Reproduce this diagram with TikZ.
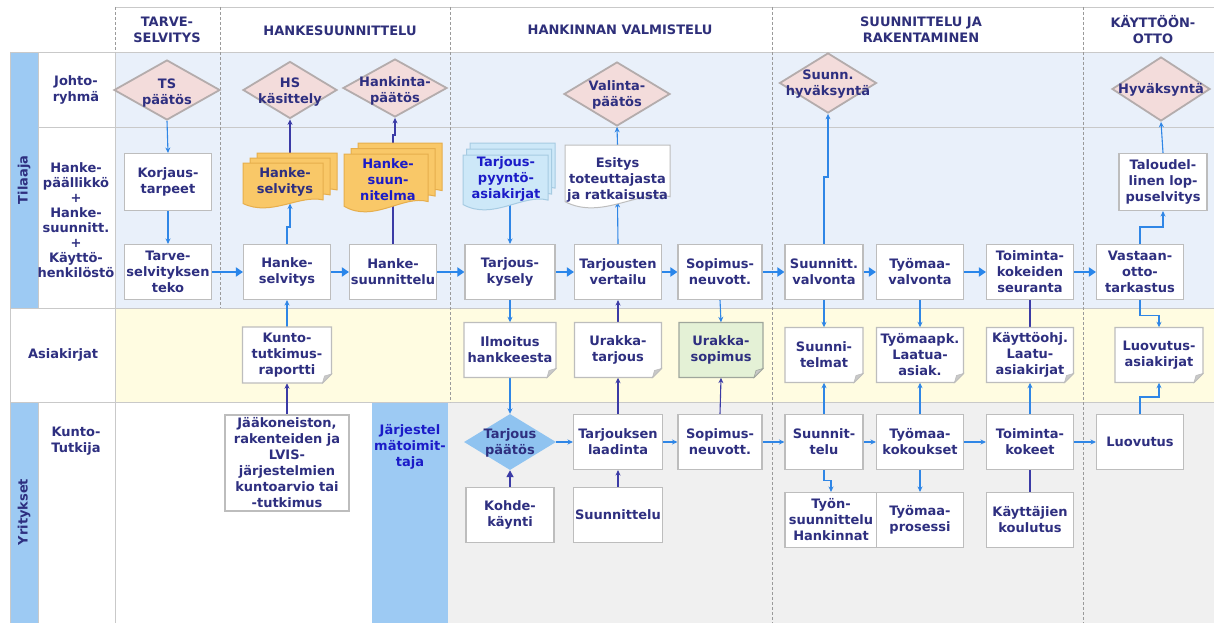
\documentclass[tikz,border=0pt]{standalone}
\usepackage{fontspec}
\setmainfont{DejaVu Sans}
\usetikzlibrary{shapes.geometric,arrows.meta}

\definecolor{ink}{HTML}{2E2F80}
\definecolor{brightink}{HTML}{1B1BC8}
\definecolor{headink}{HTML}{2E2F7A}
\definecolor{tilbg}{HTML}{E9F0FA}
\definecolor{docbg}{HTML}{FFFCE1}
\definecolor{grybg}{HTML}{F0F0F0}
\definecolor{barblue}{HTML}{9DCAF3}
\definecolor{sepgray}{HTML}{C9C9C9}
\definecolor{dashgray}{HTML}{9A9A9A}
\definecolor{boxline}{HTML}{BDBDBD}
\definecolor{pinkfill}{HTML}{F3DCDB}
\definecolor{pinkline}{HTML}{B4ACAC}
\definecolor{orfill}{HTML}{F9C868}
\definecolor{orline}{HTML}{E6AE4C}
\definecolor{lbfill}{HTML}{CDE8F8}
\definecolor{lbline}{HTML}{A6CBE2}
\definecolor{grfill}{HTML}{E4F1D6}
\definecolor{grline}{HTML}{9FA69C}
\definecolor{foldgray}{HTML}{C8C8C8}
\definecolor{wireblue}{HTML}{2F86E6}
\definecolor{wirenavy}{HTML}{3B3BA6}
\definecolor{flowblue}{HTML}{2A86EA}
\definecolor{tpfill}{HTML}{8FC3F0}

\pgfdeclarelayer{bg}
\pgfdeclarelayer{wires}
\pgfsetlayers{bg,wires,main}

% document sheet with a wavy lower edge, centred at (#1,#2), size #3 x #4
\newcommand\wavedoc[6]{\filldraw[fill=#5,draw=#6,line width=1pt,shift={(#1,#2)}]
  (-#3/2,-#4/2) -- (#3/2,-#4/2) -- (#3/2,0.32*#4)
  .. controls (0.2*#3,0.2*#4) and (-0.15*#3,0.7*#4) .. (-#3/2,0.4*#4) -- cycle;}
% three stacked sheets, each one offset by (#5,-#6)
\newcommand\docstack[8]{%
  \wavedoc{#1+2*#5}{#2-2*#6}{#3}{#4}{#7}{#8}
  \wavedoc{#1+#5}{#2-#6}{#3}{#4}{#7}{#8}
  \wavedoc{#1}{#2}{#3}{#4}{#7}{#8}}
% note sheet with a folded lower right corner
\newcommand\foldnote[6]{%
  \begin{scope}[shift={(#1,#2)}]
    \filldraw[fill=#5,draw=#6,line width=1.1pt] (-#3/2,-#4/2) -- (#3/2,-#4/2) -- (#3/2,#4/2-9)
      -- (#3/2-9,#4/2) -- (-#3/2,#4/2) -- cycle;
    \filldraw[fill=foldgray,draw=#6,line width=0.6pt] (#3/2,#4/2-9) -- (#3/2-9,#4/2) -- (#3/2-7,#4/2-7) -- cycle;
  \end{scope}}

\tikzset{
  txt/.style={font=\fontsize{13}{16}\selectfont\bfseries, text=ink, align=center, inner sep=0pt},
  headtxt/.style={txt, text=headink},
  pbox/.style={txt, draw=boxline, fill=white, line width=1.1pt, minimum width=87pt, minimum height=55pt},
  anchorbox/.style={inner sep=0pt, outer sep=0pt},
  dia/.style={diamond, draw=pinkline, fill=pinkfill, line width=1.8pt, inner sep=0pt},
  wire/.style={draw=wireblue, line width=1.1pt, -{Stealth[length=5.5pt,width=5pt]}},
  navywire/.style={wire, draw=wirenavy},
  bareline/.style={draw=wirenavy, line width=1.1pt},
  flowarrow/.style={draw=flowblue, line width=2.8pt, -{Triangle[length=7pt,width=9pt]}},
  lanesep/.style={draw=sepgray, line width=0.9pt},
  colsep/.style={draw=dashgray, line width=0.8pt, dash pattern=on 3pt off 2pt},
}

\begin{document}
\begin{tikzpicture}[x=1pt,y=-1pt]
\useasboundingbox (0,0) rectangle (1214,623);

% ---------- lanes and columns ----------
\begin{pgfonlayer}{bg}
  \fill[white] (0,0) rectangle (1214,623);
  \fill[tilbg] (115,52) rectangle (1214,308);
  \fill[docbg] (115,308) rectangle (1214,402);
  \fill[grybg] (448,402) rectangle (1214,623);
  \fill[barblue] (10,52) rectangle (38,308);
  \fill[barblue] (10,402) rectangle (38,623);
  \fill[barblue] (372,402) rectangle (448,623);
  \draw[lanesep] (115,7) -- (1214,7);
  \draw[lanesep] (10,52) -- (1214,52);
  \draw[lanesep] (38,127) -- (1214,127);
  \draw[lanesep] (10,308) -- (1214,308);
  \draw[lanesep] (10,402) -- (1214,402);
  \draw[lanesep] (10,52) -- (10,623);
  \draw[lanesep] (38,52) -- (38,308);
  \draw[lanesep] (38,402) -- (38,623);
  \draw[lanesep] (115,52) -- (115,623);
  \draw[colsep] (115,7) -- (115,52);
  \draw[colsep] (220,7) -- (220,308);
  \draw[colsep] (450,7) -- (450,402);
  \draw[colsep] (772,7) -- (772,623);
  \draw[colsep] (1083,7) -- (1083,623);
\end{pgfonlayer}

% ---------- column headings ----------
\node[headtxt] (h1) at (167,30) {TARVE-\\SELVITYS};
\node[headtxt] (h2) at (340,31) {HANKESUUNNITTELU};
\node[headtxt] (h3) at (620,30) {HANKINNAN VALMISTELU};
\node[headtxt] (h4) at (921,30) {SUUNNITTELU JA\\RAKENTAMINEN};
\node[headtxt] (h5) at (1153,30) {KÄYTTÖÖN-\\OTTO};

% ---------- lane labels ----------
\node[txt, rotate=90] (l-til) at (24,180) {Tilaaja};
\node[txt, rotate=90] (l-yri) at (24,512) {Yritykset};
\node[txt] (l-joh) at (76,90) {Johto-\\ryhmä};
\node[txt, font=\fontsize{13}{15}\selectfont\bfseries] (l-han) at (76,220)
  {Hanke-\\päällikkö\\+\\Hanke-\\suunnitt.\\+\\Käyttö-\\henkilöstö};
\node[txt] (l-asi) at (63,355) {Asiakirjat};
\node[txt] (l-kun) at (76,441) {Kunto-\\Tutkija};
\node[txt, text=brightink] (l-jar) at (410,447) {Järjestel\\mätoimit-\\taja};

% ---------- decisions (Johtoryhmä) ----------
\node[dia, minimum width=106pt, minimum height=60pt] (tsp) at (167,90) {};
\node[txt] (tsp-t) at (167,93) {TS\\päätös};
\node[dia, minimum width=94pt, minimum height=57pt] (hsk) at (290,90) {};
\node[txt] (hsk-t) at (290,92) {HS\\käsittely};
\node[dia, minimum width=104pt, minimum height=58pt] (hkp) at (395,88) {};
\node[txt] (hkp-t) at (395,91) {Hankinta-\\päätös};
\node[dia, minimum width=106pt, minimum height=64pt] (vlp) at (617,94) {};
\node[txt] (vlp-t) at (617,95) {Valinta-\\päätös};
\node[dia, minimum width=97pt, minimum height=60pt] (shy) at (828,83) {};
\node[txt] (shy-t) at (828,84) {Suunn.\\hyväksyntä};
\node[dia, minimum width=98pt, minimum height=64pt] (hyv) at (1161,89) {};
\node[txt] (hyv-t) at (1161,90) {Hyväksyntä};

% ---------- Tilaaja lane ----------
\node[pbox, minimum height=57pt] (korj) at (168,182) {Korjaus-\\tarpeet};
\node[pbox] (tarve) at (168,272) {Tarve-\\selvityksen\\teko};
\node[pbox] (hsel) at (287,272) {Hanke-\\selvitys};
\node[pbox] (hsuu) at (393,272) {Hanke-\\suunnittelu};
\node[pbox, minimum width=90pt] (tkys) at (510,272) {Tarjous-\\kysely};
\node[pbox] (tver) at (618,272) {Tarjousten\\vertailu};
\node[pbox, minimum width=84pt] (sneu) at (720,272) {Sopimus-\\neuvott.};
\node[pbox, minimum width=78pt] (sval) at (824,272) {Suunnitt.\\valvonta};
\node[pbox] (tval) at (920,272) {Työmaa-\\valvonta};
\node[pbox] (tkse) at (1030,272) {Toiminta-\\kokeiden\\seuranta};
\node[pbox] (vot) at (1140,272) {Vastaan-\\otto-\\tarkastus};
\node[pbox, minimum width=88pt, minimum height=57pt] (talo) at (1163,182) {Taloudel-\\linen lop-\\puselvitys};

\docstack{283}{185.5}{80}{45}{7}{5}{orfill}{orline}
\node[anchorbox, minimum width=94pt, minimum height=50.5pt] (hsdoc) at (290,178.25) {};
\node[txt] (hsdoc-t) at (285,182) {Hanke-\\selvitys};

\docstack{386}{183}{84}{58}{7}{5.5}{orfill}{orline}
\node[anchorbox, minimum width=98pt, minimum height=63pt] (hsuundoc) at (393,174.5) {};
\node[txt, text=brightink] (hsuundoc-t) at (388,180) {Hanke-\\suun-\\nitelma};

\docstack{505.5}{182.5}{85}{55}{3.5}{6}{lbfill}{lbline}
\node[anchorbox, minimum width=92pt, minimum height=61.5pt] (tpyy) at (510,173.75) {};
\node[txt, text=brightink] (tpyy-t) at (506,179) {Tarjous-\\pyyntö-\\asiakirjat};

\wavedoc{617.5}{176.5}{105}{63}{white}{boxline}
\node[anchorbox, minimum width=105pt, minimum height=57pt] (esit) at (617.5,173.5) {};
\node[txt] (esit-t) at (617.5,180) {Esitys\\toteuttajasta\\ja ratkaisusta};

% ---------- Asiakirjat lane ----------
\foldnote{287}{355}{89}{56}{white}{boxline}
\node[txt, minimum width=89pt, minimum height=56pt] (kunto) at (287,355) {Kunto-\\tutkimus-\\raportti};
\foldnote{510}{350}{92}{55}{white}{boxline}
\node[txt, minimum width=92pt, minimum height=55pt] (ilm) at (510,350) {Ilmoitus\\hankkeesta};
\foldnote{618}{350}{87}{55}{white}{boxline}
\node[txt, minimum width=87pt, minimum height=55pt] (utar) at (618,350) {Urakka-\\tarjous};
\foldnote{721}{350}{84}{55}{grfill}{grline}
\node[txt, minimum width=84pt, minimum height=55pt] (usop) at (721,350) {Urakka-\\sopimus};
\foldnote{824}{355}{78}{55}{white}{boxline}
\node[txt, minimum width=78pt, minimum height=55pt] (suunt) at (824,355) {Suunni-\\telmat};
\foldnote{920}{355}{87}{55}{white}{boxline}
\node[txt, minimum width=87pt, minimum height=55pt] (tpk) at (920,355) {Työmaapk.\\Laatua-\\asiak.};
\foldnote{1030}{355}{87}{55}{white}{boxline}
\node[txt, minimum width=87pt, minimum height=55pt] (kohj) at (1030,355) {Käyttöohj.\\Laatu-\\asiakirjat};
\foldnote{1159}{355}{88}{55}{white}{boxline}
\node[txt, minimum width=88pt, minimum height=55pt] (luas) at (1159,355) {Luovutus-\\asiakirjat};

% ---------- Yritykset lane ----------
\node[pbox, minimum width=124pt, minimum height=96pt] (jaak) at (287,463)
  {Jääkoneiston,\\rakenteiden ja\\LVIS-\\järjestelmien\\kuntoarvio tai\\-tutkimus};
\node[diamond, fill=tpfill, inner sep=0pt, minimum width=92pt, minimum height=56pt] (tpa) at (510,442) {};
\node[txt] (tpa-t) at (510,443) {Tarjous\\päätös};
\node[pbox, minimum width=89pt] (tlaa) at (618,442) {Tarjouksen\\laadinta};
\node[pbox, minimum width=84pt] (sneu2) at (720,442) {Sopimus-\\neuvott.};
\node[pbox, minimum width=88pt] (kohde) at (510,515) {Kohde-\\käynti};
\node[pbox, minimum width=89pt] (suun) at (618,515) {Suunnittelu};
\node[pbox, minimum width=78pt] (suunt2) at (824,442) {Suunnit-\\telu};
\node[pbox] (tkok) at (920,442) {Työmaa-\\kokoukset};
\node[pbox] (tko) at (1030,442) {Toiminta-\\kokeet};
\node[pbox] (luov) at (1140,442) {Luovutus};
\node[pbox, minimum width=92pt] (tyon) at (831,520) {Työn-\\suunnittelu\\Hankinnat};
\node[pbox] (tpro) at (920,520) {Työmaa-\\prosessi};
\node[pbox] (kkou) at (1030,520) {Käyttäjien\\koulutus};

% ---------- connectors ----------
\begin{pgfonlayer}{wires}
  % main flow of the client
  \draw[flowarrow] (tarve) -- (hsel);
  \draw[flowarrow] (hsel) -- (hsuu);
  \draw[flowarrow] (hsuu) -- (tkys);
  \draw[flowarrow] (tkys) -- (tver);
  \draw[flowarrow] (tver) -- (sneu);
  \draw[flowarrow] (sneu) -- (sval);
  \draw[flowarrow] (sval) -- (tval);
  \draw[flowarrow] (tval) -- (tkse);
  \draw[flowarrow] (tkse) -- (vot);

  % Tilaaja / Johtoryhmä
  \draw[wire] (tsp.south) -- (korj.north);
  \draw[wire] (korj.south) -- (tarve.north);
  \draw[wire] (hsel.north) -- ++(0,-17) -| (hsdoc.south);
  \draw[navywire] (hsdoc.north) -- (hsk.south);
  \draw[bareline] (hsuu.north) -- (hsuundoc.south);
  \draw[navywire] (hsuundoc.north) -- ++(0,-8) -| (hkp.south);
  \draw[wire] (tpyy.south) -- (tkys.north);
  \draw[wire] (tver.north) -- (esit.south);
  \draw[wire] (esit.north) -- (vlp.south);
  \draw[wire] (sval.north) -- ++(0,-67) -| (shy.south);
  \draw[wire] (vot.north) -- ++(0,-17) -| (talo.south);
  \draw[wire] (talo.north) -- (hyv.south);

  % documents
  \draw[wire] (kunto.north) -- (hsel.south);
  \draw[navywire] (jaak.north) -- (kunto.south);
  \draw[wire] (tkys.south) -- (ilm.north);
  \draw[wire] (ilm.south) -- (tpa.north);
  \draw[navywire] (utar.north) -- (tver.south);
  \draw[navywire] (tlaa.north) -- (utar.south);
  \draw[wire] (sneu.south) -- (usop.north);
  \draw[navywire] (sneu2.north) -- (usop.south);
  \draw[wire] (sval.south) -- (suunt.north);
  \draw[wire] (suunt2.north) -- (suunt.south);
  \draw[wire] (tval.south) -- (tpk.north);
  \draw[wire] (tkok.north) -- (tpk.south);
  \draw[bareline] (tkse.south) -- (kohj.north);
  \draw[wire] (tko.north) -- (kohj.south);
  \draw[wire] (vot.south) -- ++(0,15) -| (luas.north);
  \draw[wire] (luov.north) -- ++(0,-17) -| (luas.south);

  % Yritykset
  \draw[navywire, line width=1.6pt, -{Triangle[length=7pt,width=7pt]}] (kohde.north) -- (tpa.south);
  \draw[wire] (tpa.east) -- (tlaa.west);
  \draw[wire] (tlaa.east) -- (sneu2.west);
  \draw[wire] (sneu2.east) -- (suunt2.west);
  \draw[wire] (suunt2.east) -- (tkok.west);
  \draw[wire] (tkok.east) -- (tko.west);
  \draw[wire] (tko.east) -- (luov.west);
  \draw[navywire] (suun.north) -- (tlaa.south);
  \draw[wire] (suunt2.south) -- ++(0,10) -| (tyon.north);
  \draw[wire] (tkok.south) -- (tpro.north);
  \draw[bareline] (tko.south) -- (kkou.north);
\end{pgfonlayer}
\end{tikzpicture}
\end{document}
